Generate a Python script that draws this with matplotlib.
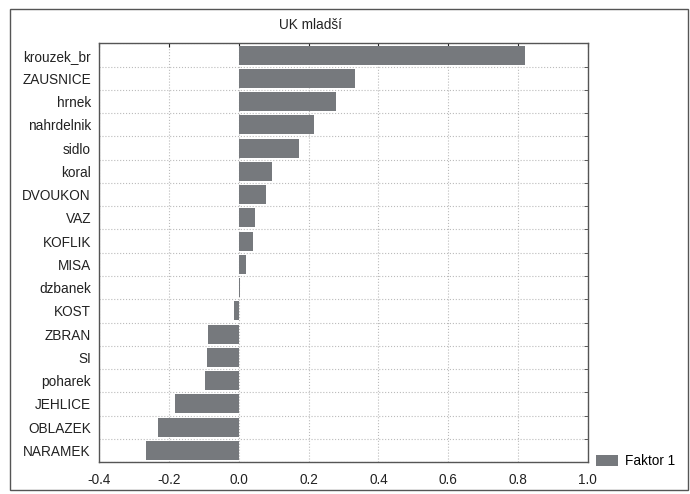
#! /usr/bin/env python3

import numpy as np
import matplotlib
matplotlib.use('Agg')
import matplotlib.pyplot as plt
from matplotlib.patches import Rectangle

plt.rcParams['font.family'] = ['Liberation Sans', 'DejaVu Sans']

# data, top to bottom as in the picture
labels = ['krouzek_br', 'ZAUSNICE', 'hrnek', 'nahrdelnik', 'sidlo', 'koral',
          'DVOUKON', 'VAZ', 'KOFLIK', 'MISA', 'dzbanek', 'KOST', 'ZBRAN',
          'SI', 'poharek', 'JEHLICE', 'OBLAZEK', 'NARAMEK']
faktor1 = [0.820, 0.333, 0.278, 0.216, 0.173, 0.096, 0.078, 0.047, 0.042,
           0.021, 0.002, -0.013, -0.088, -0.092, -0.097, -0.183, -0.232, -0.266]
xticks = [-0.4, -0.2, 0.0, 0.2, 0.4, 0.6, 0.8, 1.0]

W, H = 690, 494
fig = plt.figure(figsize=(W / 100, H / 100), dpi=100)
fig.patch.set_facecolor('white')

# outer frame
fig.patches.append(Rectangle((10 / W, 1 - 490 / H), 678 / W, 480.5 / H,
                             transform=fig.transFigure, fill=False,
                             edgecolor='#555555', linewidth=1.0))

left, right, top, bottom = 99.3, 587.7, 43.5, 462
ax = fig.add_axes([left / W, 1 - bottom / H, (right - left) / W, (bottom - top) / H])

n = len(labels)
ypos = np.arange(n)
ax.barh(ypos, faktor1, height=0.82, color='#76797d', label='Faktor 1', zorder=3)
ax.set_ylim(n - 0.5, -0.5)
ax.set_xlim(-0.4, 1.0)

ax.set_yticks(ypos)
ax.set_yticklabels(labels)
ax.set_xticks(xticks)
ax.set_xticklabels(['%.1f' % v for v in xticks])

# grid: dotted lines at ticks (x) and between bars (y)
ax.set_yticks(np.arange(n + 1) - 0.5, minor=True)
ax.grid(True, axis='x', which='major', linestyle=':', color='#bbbbbb', linewidth=0.8, zorder=0)
ax.grid(True, axis='y', which='minor', linestyle=':', color='#bbbbbb', linewidth=0.8, zorder=0)

ax.tick_params(axis='y', which='major', length=0, pad=6, labelsize=9.8, colors='#222222')
ax.tick_params(axis='y', which='minor', left=False, right=True, direction='in',
               length=3, color='#444444')
ax.tick_params(axis='x', which='major', bottom=False, top=True, direction='in',
               length=3, pad=8, labelsize=9.8, colors='#222222')
ax.tick_params(axis='x', labelcolor='#222222')

for s in ax.spines.values():
    s.set_color('#555555')
    s.set_linewidth(1.0)

fig.text(310 / W, 1 - 25 / H, 'UK mladší', ha='center', va='center',
         fontsize=9.8, color='#222222')

ax.legend(loc='center left', bbox_to_anchor=(596 / W, 1 - 461 / H),
          bbox_transform=fig.transFigure, frameon=False, fontsize=9.8,
          handlelength=1.6, handleheight=0.9, handletextpad=0.5,
          borderpad=0, borderaxespad=0)

fig.savefig('out.png', dpi=100)
